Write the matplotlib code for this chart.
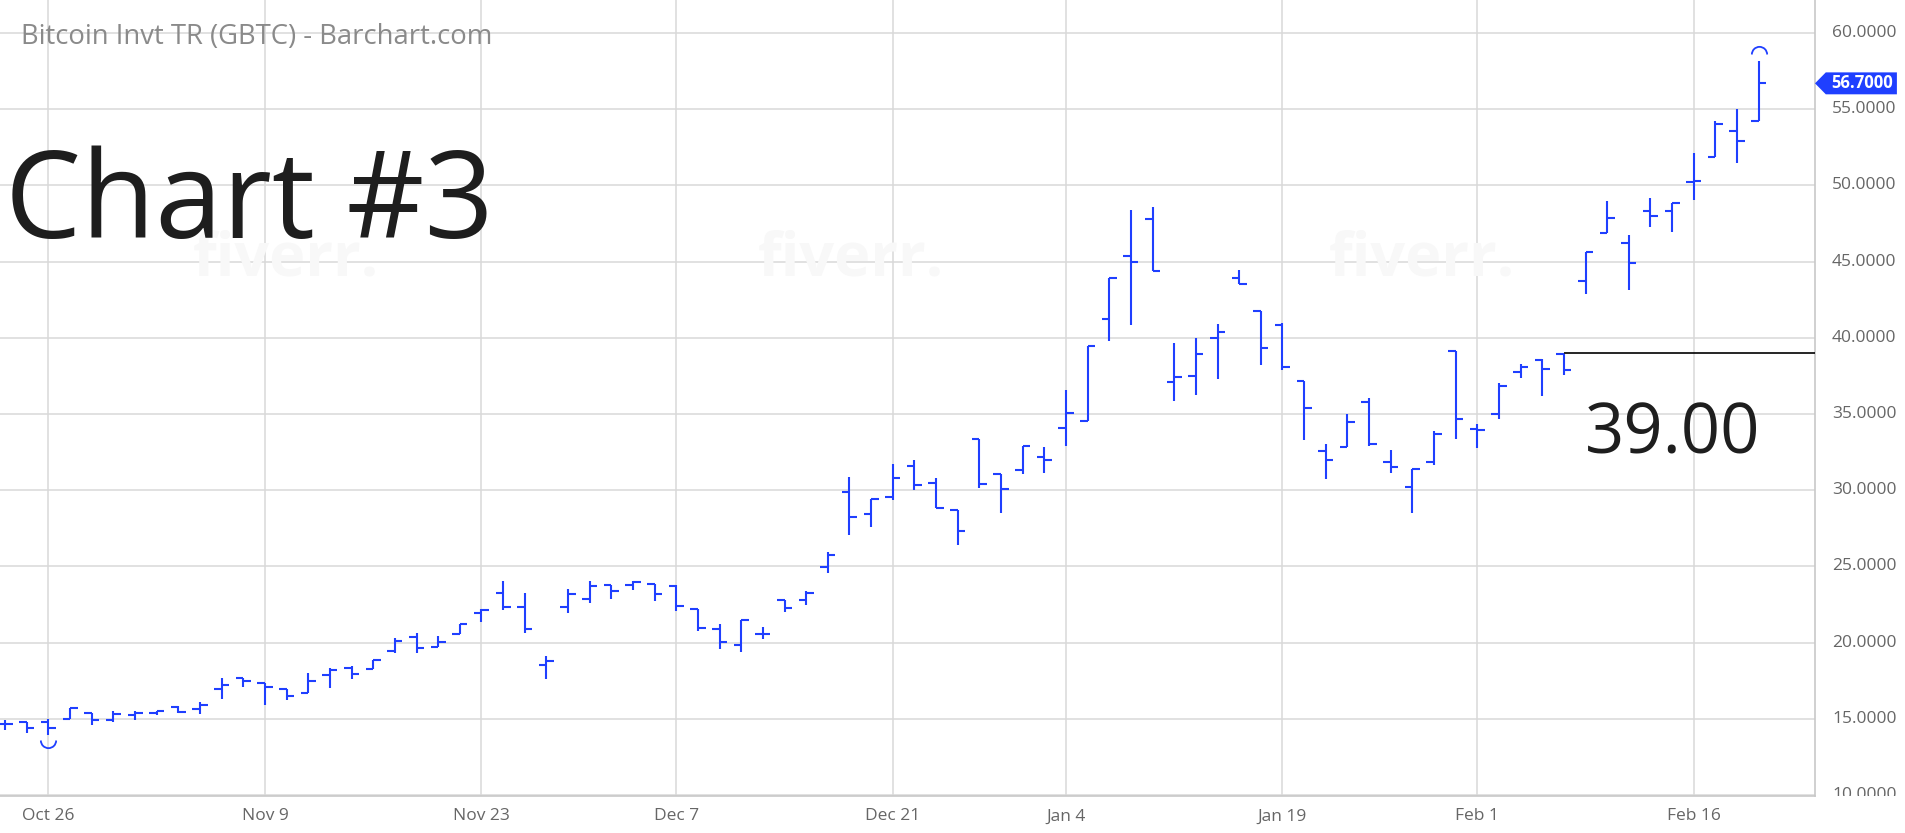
import numpy as np
import pandas as pd
import matplotlib
matplotlib.use("Agg")
import matplotlib.pyplot as plt
from matplotlib.path import Path
from matplotlib.patches import Polygon

# GBTC daily bars, Oct 22 2020 - Feb 19 2021
opens = [14.67, 14.78, 14.78, 15.00, 15.37, 14.93, 15.22, 15.37, 15.76, 15.65, 16.93, 17.67, 17.35, 16.96, 16.72,
         17.87, 18.35, 18.29, 19.45, 20.37, 19.74, 20.59, 21.91, 23.23, 22.35, 18.51, 22.31, 22.86, 23.78, 23.80,
         23.85, 23.70, 22.17, 20.87, 19.83, 20.59, 22.78, 22.80, 24.93, 29.88, 28.45, 29.57, 31.59, 30.49, 28.67,
         33.33, 31.09, 31.31, 32.21, 34.10, 34.53, 41.22, 45.38, 47.82, 37.08, 37.47, 40.02, 43.90, 41.74, 40.87,
         37.16, 32.60, 32.84, 35.79, 31.86, 30.22, 31.86, 39.13, 34.04, 35.00, 37.73, 38.56, 38.91, 43.73, 46.86,
         46.25, 48.29, 48.33, 50.20, 51.89, 53.60, 54.21]
highs = [14.89, 14.78, 15.00, 15.70, 15.37, 15.50, 15.50, 15.52, 15.83, 16.09, 17.67, 17.67, 17.35, 16.96, 17.97,
         18.35, 18.46, 18.84, 20.33, 20.66, 20.44, 21.25, 22.20, 24.07, 23.23, 19.12, 23.52, 24.07, 23.78, 24.02,
         23.85, 23.76, 22.17, 21.24, 21.46, 21.04, 22.78, 23.37, 25.95, 30.87, 29.44, 31.70, 31.97, 30.78, 28.67,
         33.33, 31.09, 32.88, 32.85, 36.60, 39.46, 43.90, 48.37, 48.61, 39.67, 40.00, 40.92, 44.44, 41.74, 40.96,
         37.16, 33.01, 34.98, 36.07, 32.66, 31.38, 33.86, 39.13, 34.37, 37.03, 38.30, 38.60, 38.95, 45.66, 48.99,
         46.75, 49.17, 48.88, 52.13, 54.25, 55.02, 58.16]
lows = [14.28, 14.07, 13.91, 14.96, 14.59, 14.78, 14.89, 15.22, 15.39, 15.28, 16.30, 17.11, 15.87, 16.24, 16.72,
        16.99, 17.58, 18.24, 19.34, 19.34, 19.74, 20.59, 21.32, 22.13, 20.66, 17.58, 21.93, 22.59, 22.85, 23.48,
        22.72, 22.07, 20.76, 19.61, 19.39, 20.22, 22.00, 22.46, 24.58, 27.09, 27.57, 29.33, 29.99, 28.85, 26.43,
        30.12, 28.50, 31.03, 31.15, 32.90, 34.53, 39.78, 40.81, 44.40, 35.86, 36.23, 37.32, 43.51, 38.19, 37.91,
        33.32, 30.76, 32.84, 32.88, 31.13, 28.47, 31.64, 33.38, 32.79, 34.69, 37.38, 36.16, 37.53, 42.85, 46.86,
        43.14, 47.24, 46.95, 49.04, 51.89, 51.49, 54.21]
closes = [14.67, 14.39, 14.39, 15.70, 14.93, 15.28, 15.37, 15.52, 15.43, 15.89, 17.24, 17.50, 17.11, 16.52, 17.50,
          18.20, 17.91, 18.84, 20.11, 19.63, 20.04, 21.25, 22.13, 22.35, 20.88, 18.79, 23.19, 23.74, 23.39, 23.98,
          23.20, 22.39, 20.93, 20.04, 21.46, 20.59, 22.24, 23.26, 25.77, 28.23, 29.44, 30.82, 30.34, 28.85, 27.31,
          30.43, 30.08, 32.88, 31.97, 35.08, 39.46, 43.90, 44.95, 44.40, 37.41, 38.93, 40.35, 43.51, 39.35, 38.06,
          35.39, 31.97, 34.48, 33.06, 31.51, 31.38, 33.67, 34.69, 33.93, 36.81, 38.08, 37.97, 37.90, 45.66, 47.89,
          44.93, 47.98, 48.88, 50.29, 54.04, 52.89, 56.70]

holidays = ["2020-11-26", "2020-12-25", "2021-01-01", "2021-01-18", "2021-02-15"]
tick_dates = ["2020-10-26", "2020-11-09", "2020-11-23", "2020-12-07", "2020-12-21",
              "2021-01-04", "2021-01-19", "2021-02-01", "2021-02-16"]
tick_labels = ["Oct 26", "Nov 9", "Nov 23", "Dec 7", "Dec 21", "Jan 4", "Jan 19", "Feb 1", "Feb 16"]
price_ticks = [10, 15, 20, 25, 30, 35, 40, 45, 50, 55, 60]
level = 39.00
level_start = "2021-02-05"

dates = pd.bdate_range("2020-10-22", "2021-02-19")
dates = dates[~dates.isin(pd.to_datetime(holidays))]
x = np.arange(len(dates))
date_pos = {d.strftime("%Y-%m-%d"): i for i, d in enumerate(dates)}

W, H = 1905, 833
BLUE = "#1f3fff"
GRID = "#d9d9d9"
FONT = "Open Sans"

fig = plt.figure(figsize=(W / 100, H / 100), dpi=100)
plot_right = 1815
plot_bottom = 796
ylim = (9.93, 62.17)

ax = fig.add_axes([0, 1 - plot_bottom / H, plot_right / W, plot_bottom / H])
ax.set_xlim(-0.24, 83.6)
ax.set_ylim(*ylim)

# OHLC bars
tick = 0.35
ax.vlines(x, lows, highs, color=BLUE, linewidth=1.5, zorder=3)
ax.hlines(opens, x - tick, x, color=BLUE, linewidth=1.5, zorder=3)
ax.hlines(closes, x, x + tick, color=BLUE, linewidth=1.5, zorder=3)

# period low / high arcs
i_lo = int(np.argmin(lows))
i_hi = int(np.argmax(highs))
ax.plot(x[i_lo], lows[i_lo] - 0.3, marker=Path.arc(180, 360), markersize=11,
        markerfacecolor="none", markeredgecolor=BLUE, markeredgewidth=1.3, zorder=3)
ax.plot(x[i_hi], highs[i_hi] + 0.45, marker=Path.arc(0, 180), markersize=11,
        markerfacecolor="none", markeredgecolor=BLUE, markeredgewidth=1.3, zorder=3)

# level line
ax.hlines(level, date_pos[level_start], ax.get_xlim()[1], color="black", linewidth=1.2, zorder=4)

# grid / axes
ax.set_xticks([date_pos[d] for d in tick_dates])
ax.set_xticklabels(tick_labels, fontfamily=FONT, fontsize=12.5, color="#666666")
ax.set_yticks(price_ticks)
ax.tick_params(axis="x", length=0, pad=9)
ax.tick_params(axis="y", length=0, labelleft=False)
ax.grid(True, color=GRID, linewidth=1.1, zorder=0)
for s in ["top", "left"]:
    ax.spines[s].set_visible(False)
for s in ["bottom", "right"]:
    ax.spines[s].set_color("#c8c8c8")
    ax.spines[s].set_linewidth(1.2)

# faint watermarks
for wx in [286, 851, 1422]:
    fig.text(wx / W, 1 - 260 / H, "fiverr.", fontfamily=FONT, fontweight="bold", fontsize=44,
             color="#f8f8f8", ha="center", va="center", zorder=1)

# right price scale
ax2 = fig.add_axes([plot_right / W, 1 - plot_bottom / H, (W - plot_right) / W, plot_bottom / H])
ax2.set_xlim(0, 1)
ax2.set_ylim(*ylim)
ax2.axis("off")
for p in price_ticks:
    ax2.text(17 / 90, p, f"{p:.4f}", fontfamily=FONT, fontsize=12.5, color="#666666",
             ha="left", va="center", clip_on=True)

last = closes[-1]
hh = 0.72
ax2.add_patch(Polygon([(0, last), (0.12, last + hh), (0.91, last + hh), (0.91, last - hh), (0.12, last - hh)],
                      closed=True, facecolor=BLUE, edgecolor="none", zorder=5))
ax2.text(0.52, last, f"{last:.4f}", fontfamily=FONT, fontsize=12, fontweight="bold", color="white",
         ha="center", va="center", zorder=6)

# titles / annotations
fig.text(21 / W, 1 - 44 / H, "Bitcoin Invt TR (GBTC) - Barchart.com", fontfamily=FONT, fontsize=19.8,
         color="#8a8a8a", ha="left", va="baseline")
fig.text(5 / W, 1 - 238 / H, "Chart #3", fontfamily=FONT, fontsize=87, color="#1e1e1e",
         ha="left", va="baseline")
fig.text(1585 / W, 1 - 453 / H, f"{level:.2f}", fontfamily=FONT, fontsize=49.5, color="#1e1e1e",
         ha="left", va="baseline")

fig.savefig("out.png", dpi=100)
